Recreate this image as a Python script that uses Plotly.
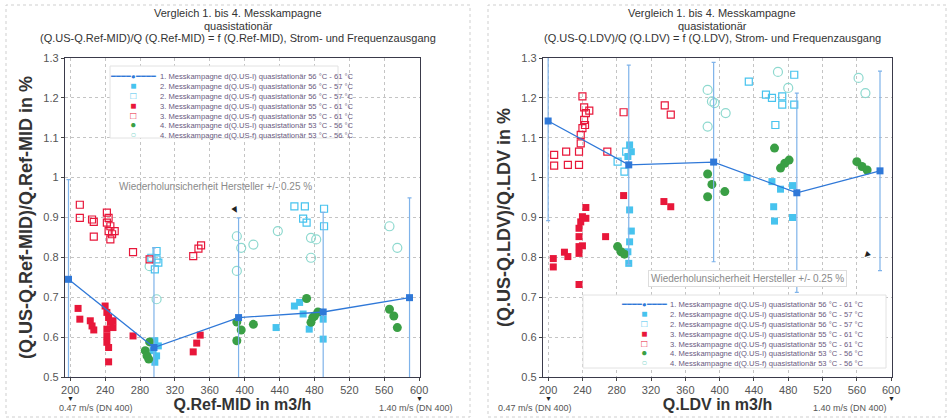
import plotly.graph_objects as go

# ---------------- data ----------------
x_ticks = [200, 240, 280, 320, 360, 400, 440, 480, 520, 560, 600]
y_ticks = [0.5, 0.6, 0.7, 0.8, 0.9, 1.0, 1.1, 1.2, 1.3]
uncertainty = 0.25

# left panel: Q.Ref-MID
mid_s1_x = [198, 296, 393, 490, 589]
mid_s1_y = [0.745, 0.574, 0.649, 0.663, 0.699]
mid_s2i_x = [297, 301, 299, 297, 295, 436, 457, 463, 467, 474, 490, 490]
mid_s2i_y = [0.591, 0.578, 0.553, 0.537, 0.566, 0.624, 0.678, 0.687, 0.658, 0.620, 0.645, 0.595]
mid_s2f_x = [293, 299, 301, 299, 297, 457, 469, 467, 471, 491, 491]
mid_s2f_y = [0.799, 0.795, 0.787, 0.816, 0.770, 0.928, 0.928, 0.897, 0.887, 0.922, 0.878]
mid_s3i_x = [209, 211, 223, 225, 227, 240, 242, 244, 246, 249, 249, 242, 242, 242, 244, 244, 272, 341, 345, 349]
mid_s3i_y = [0.672, 0.645, 0.641, 0.628, 0.618, 0.678, 0.662, 0.649, 0.637, 0.641, 0.624, 0.620, 0.603, 0.587, 0.574, 0.538, 0.603, 0.563, 0.585, 0.605]
mid_s3f_x = [211, 211, 225, 227, 227, 242, 244, 242, 246, 244, 248, 251, 246, 272, 291, 341, 347, 350]
mid_s3f_y = [0.932, 0.899, 0.895, 0.889, 0.852, 0.912, 0.899, 0.887, 0.878, 0.866, 0.858, 0.866, 0.845, 0.813, 0.795, 0.803, 0.822, 0.830]
mid_s4i_x = [286, 291, 290, 288, 391, 396, 391, 410, 471, 476, 480, 484, 478, 566, 571, 575]
mid_s4i_y = [0.566, 0.588, 0.545, 0.553, 0.638, 0.618, 0.591, 0.632, 0.697, 0.637, 0.653, 0.663, 0.649, 0.670, 0.653, 0.624]
mid_s4f_x = [291, 299, 391, 396, 410, 391, 438, 476, 482, 476, 566, 575]
mid_s4f_y = [0.778, 0.695, 0.853, 0.824, 0.832, 0.766, 0.866, 0.849, 0.845, 0.799, 0.878, 0.824]

# right panel: Q.LDV
ldv_s1_x = [200, 294, 393, 490, 587]
ldv_s1_y = [1.142, 1.032, 1.039, 0.962, 1.017]
ldv_s2i_x = [295, 297, 293, 295, 297, 295, 293, 294, 432, 461, 471, 485, 463, 464, 485]
ldv_s2i_y = [1.082, 1.065, 1.053, 0.919, 0.866, 0.839, 0.814, 0.785, 1.000, 0.990, 0.971, 0.980, 0.927, 0.891, 0.900]
ldv_s2f_x = [291, 289, 281, 434, 454, 461, 473, 473, 487, 487, 465]
ldv_s2f_y = [1.065, 1.015, 1.040, 1.241, 1.208, 1.200, 1.204, 1.183, 1.258, 1.183, 1.132]
ldv_s3i_x = [206, 206, 219, 223, 236, 236, 240, 236, 236, 238, 240, 244, 244, 236, 267, 288, 335, 343]
ldv_s3i_y = [0.797, 0.776, 0.813, 0.802, 0.810, 0.827, 0.829, 0.852, 0.873, 0.889, 0.902, 0.898, 0.925, 0.732, 0.852, 0.955, 0.940, 0.927]
ldv_s3f_x = [207, 207, 221, 223, 236, 236, 238, 238, 240, 242, 244, 242, 240, 248, 243, 269, 288, 336, 343]
ldv_s3f_y = [1.057, 1.030, 1.065, 1.032, 1.032, 1.065, 1.086, 1.107, 1.124, 1.145, 1.162, 1.176, 1.204, 1.168, 1.132, 1.065, 1.164, 1.181, 1.158]
ldv_s4i_x = [281, 285, 289, 386, 391, 386, 406, 464, 471, 476, 481, 560, 566, 572]
ldv_s4i_y = [0.827, 0.814, 0.808, 1.009, 0.983, 0.952, 0.965, 1.074, 1.024, 1.036, 1.044, 1.040, 1.028, 1.019]
ldv_s4f_x = [386, 394, 407, 386, 468, 480, 562, 570, 391]
ldv_s4f_y = [1.220, 1.187, 1.162, 1.128, 1.265, 1.225, 1.250, 1.212, 1.191]

legend_names = [
    "1. Messkampagne d(Q.US-I) quasistationär 56 °C - 61 °C",
    "2. Messkampagne d(Q.US-I) quasistationär 56 °C - 57 °C",
    "2. Messkampagne d(Q.US-f) quasistationär 56 °C - 57 °C",
    "3. Messkampagne d(Q.US-I) quasistationär 55 °C - 61 °C",
    "3. Messkampagne d(Q.US-f) quasistationär 55 °C - 61 °C",
    "4. Messkampagne d(Q.US-I) quasistationär 53 °C - 56 °C",
    "4. Messkampagne d(Q.US-f) quasistationär 53 °C - 56 °C",
]

titles = {
    "mid": ["Vergleich 1. bis 4. Messkampagne", "quasistationär",
            "(Q.US-Q.Ref-MID)/Q (Q.Ref-MID) = f (Q.Ref-MID), Strom- und Frequenzausgang"],
    "ldv": ["Vergleich 1. bis 4. Messkampagne", "quasistationär",
            "(Q.US-Q.LDV)/Q (Q.LDV) = f (Q.LDV), Strom- und Frequenzausgang"],
}

# ---------------- styles ----------------
BLUE = "#2f78d8"
BLUE_ERR = "#7fb3ea"
CYAN = "#47c3ee"
RED = "#e8173a"
GREEN = "#3a9f45"
OPEN_C = "#8ed9cf"
FONT = "Liberation Sans, Arial, sans-serif"
W, H = 949, 420

fig = go.Figure()

def add_panel(suffix, d):
    xa = "x" + suffix
    ya = "y" + suffix
    common = dict(xaxis=xa, yaxis=ya, showlegend=False, hoverinfo="x+y")
    fig.add_trace(go.Scatter(x=d["s4f"][0], y=d["s4f"][1], mode="markers",
                             marker=dict(symbol="circle-open", size=9, color=OPEN_C, line=dict(width=1.2)),
                             name=legend_names[6], **common))
    fig.add_trace(go.Scatter(x=d["s2f"][0], y=d["s2f"][1], mode="markers",
                             marker=dict(symbol="square-open", size=7, color=CYAN, line=dict(width=1.2)),
                             name=legend_names[2], **common))
    fig.add_trace(go.Scatter(x=d["s3f"][0], y=d["s3f"][1], mode="markers",
                             marker=dict(symbol="square-open", size=7, color=RED, line=dict(width=1.2)),
                             name=legend_names[4], **common))
    fig.add_trace(go.Scatter(x=d["s3i"][0], y=d["s3i"][1], mode="markers",
                             marker=dict(symbol="square", size=7, color=RED),
                             name=legend_names[3], **common))
    fig.add_trace(go.Scatter(x=d["s2i"][0], y=d["s2i"][1], mode="markers",
                             marker=dict(symbol="square", size=7, color=CYAN),
                             name=legend_names[1], **common))
    fig.add_trace(go.Scatter(x=d["s4i"][0], y=d["s4i"][1], mode="markers",
                             marker=dict(symbol="circle", size=9, color=GREEN),
                             name=legend_names[5], **common))
    fig.add_trace(go.Scatter(x=d["s1"][0], y=d["s1"][1], mode="lines+markers",
                             line=dict(color=BLUE, width=1.3),
                             marker=dict(symbol="square", size=7, color=BLUE),
                             error_y=dict(type="constant", value=uncertainty, color=BLUE_ERR,
                                          thickness=1.2, width=2),
                             name=legend_names[0], **common))

add_panel("", {"s1": (mid_s1_x, mid_s1_y), "s2i": (mid_s2i_x, mid_s2i_y), "s2f": (mid_s2f_x, mid_s2f_y),
               "s3i": (mid_s3i_x, mid_s3i_y), "s3f": (mid_s3f_x, mid_s3f_y),
               "s4i": (mid_s4i_x, mid_s4i_y), "s4f": (mid_s4f_x, mid_s4f_y)})
add_panel("2", {"s1": (ldv_s1_x, ldv_s1_y), "s2i": (ldv_s2i_x, ldv_s2i_y), "s2f": (ldv_s2f_x, ldv_s2f_y),
                "s3i": (ldv_s3i_x, ldv_s3i_y), "s3f": (ldv_s3f_x, ldv_s3f_y),
                "s4i": (ldv_s4i_x, ldv_s4i_y), "s4f": (ldv_s4f_x, ldv_s4f_y)})

def px_x(p):
    return p / W

def px_y(p):
    return 1 - p / H

ydom = [px_y(377), px_y(58)]

axis_common = dict(
    showline=True, linecolor="#3a3a4a", linewidth=1.3, mirror=True,
    ticks="outside", ticklen=3, tickcolor="#444", automargin=False,
    showgrid=True, gridcolor="#c4c4c4", griddash="dot", gridwidth=1,
    zeroline=False, tickfont=dict(family=FONT, size=11, color="#555"),
)
xcommon = dict(axis_common, range=[194, 601], tickvals=x_ticks)
ycommon = dict(axis_common, range=[0.5, 1.3], tickvals=y_ticks)
xtitle_font = dict(family=FONT, size=16, color="#333")
ytitle_font = dict(family=FONT, size=18, color="#333")

layout = dict(
    width=W, height=H, autosize=False, margin=dict(l=0, r=0, t=0, b=0, pad=0),
    paper_bgcolor="white", plot_bgcolor="white",
    font=dict(family=FONT), showlegend=False,
    xaxis=dict(xcommon, domain=[px_x(65), px_x(420)], anchor="y",
               title=dict(text="<b>Q.Ref-MID in m3/h</b>", font=xtitle_font, standoff=3)),
    yaxis=dict(ycommon, domain=ydom, anchor="x",
               title=dict(text="<b>(Q.US-Q.Ref-MID)/Q.Ref-MID in %</b>", font=ytitle_font, standoff=6)),
    xaxis2=dict(xcommon, domain=[px_x(543), px_x(892)], anchor="y2",
                title=dict(text="<b>Q.LDV in m3/h</b>", font=xtitle_font, standoff=3)),
    yaxis2=dict(ycommon, domain=ydom, anchor="x2",
                title=dict(text="<b>(Q.US-Q.LDV)/Q.LDV in %</b>", font=ytitle_font, standoff=6)),
)
fig.update_layout(**layout)

annotations = []
shapes = []

# panel frames
for x0, x1 in [(6, 470), (488, 946)]:
    shapes.append(dict(type="rect", xref="paper", yref="paper", x0=px_x(x0), x1=px_x(x1),
                       y0=px_y(417), y1=px_y(5), line=dict(color="#cfcfcf", width=1, dash="dot"),
                       layer="below"))

# titles
for key, cx in [("mid", 238), ("ldv", 712)]:
    for i, line in enumerate(titles[key]):
        annotations.append(dict(text=line, xref="paper", yref="paper", x=px_x(cx), y=px_y(13 + 12.5 * i),
                                xanchor="center", yanchor="middle", showarrow=False,
                                font=dict(family=FONT, size=11, color="#333")))

# uncertainty notes
annotations.append(dict(text="Wiederholunsicherheit Hersteller +/- 0.25 %", xref="x", yref="y",
                        x=366, y=0.978, showarrow=False,
                        font=dict(family=FONT, size=10, color="#8a8a8a")))
annotations.append(dict(text="Wiederholunsicherheit Hersteller +/- 0.25 %", xref="x2", yref="y2",
                        x=432, y=0.748, showarrow=False, bordercolor="#dddddd", borderwidth=1,
                        borderpad=2, bgcolor="white",
                        font=dict(family=FONT, size=10, color="#8a8a8a")))

# arrowheads inside plots
annotations.append(dict(text="▼", xref="x", yref="y", x=389, y=0.92, showarrow=False,
                        textangle=-30, font=dict(size=10, color="#222")))
annotations.append(dict(text="▼", xref="x2", yref="y2", x=572, y=0.806, showarrow=False,
                        textangle=45, font=dict(size=10, color="#222")))

# velocity markers below the axes
for xr, cx_lo, cx_hi in [("x", 57, 416), ("x2", 535, 889)]:
    for xv in (200, 600):
        annotations.append(dict(text="▼", xref=xr, yref="paper", x=xv, y=px_y(403.5),
                                showarrow=False, font=dict(size=7, color="#222")))
    annotations.append(dict(text="0.47 m/s (DN 400)", xref="paper", yref="paper", x=px_x(cx_lo),
                            y=px_y(414.5), showarrow=False, font=dict(family=FONT, size=9, color="#555")))
    annotations.append(dict(text="1.40 m/s (DN 400)", xref="paper", yref="paper", x=px_x(cx_hi),
                            y=px_y(414.5), showarrow=False, font=dict(family=FONT, size=9, color="#555")))

# legends (drawn as text blocks)
sym_lines = [
    f"<span style='color:{BLUE}'>━━━━●━━━━</span>",
    f"<span style='color:{CYAN};font-size:10px'>■</span>",
    f"<span style='color:{CYAN};font-size:10px'>□</span>",
    f"<span style='color:{RED};font-size:10px'>■</span>",
    f"<span style='color:{RED};font-size:10px'>□</span>",
    f"<span style='color:{GREEN};font-size:10px'>●</span>",
    f"<span style='color:{OPEN_C};font-size:10px'>○</span>",
]
leg_font = dict(family=FONT, size=7.6, color="#6a5a80")
for (sx, tx, top, box) in [(133, 158, 70, (110, 338, 66, 138)), (644, 668, 298, (583, 886, 295, 368))]:
    shapes.append(dict(type="rect", xref="paper", yref="paper", x0=px_x(box[0]), x1=px_x(box[1]),
                       y0=px_y(box[3]), y1=px_y(box[2]), fillcolor="white",
                       line=dict(color="#e2e2e2", width=1), layer="above"))
    annotations.append(dict(text="<br>".join(sym_lines), xref="paper", yref="paper",
                            x=px_x(sx), y=px_y(top), xanchor="center", yanchor="top", align="center",
                            showarrow=False, font=leg_font))
    annotations.append(dict(text="<br>".join(legend_names), xref="paper", yref="paper",
                            x=px_x(tx), y=px_y(top), xanchor="left", yanchor="top", align="left",
                            showarrow=False, font=leg_font))

fig.update_layout(annotations=annotations, shapes=shapes)
fig.write_html("out.html", config={"responsive": False})
